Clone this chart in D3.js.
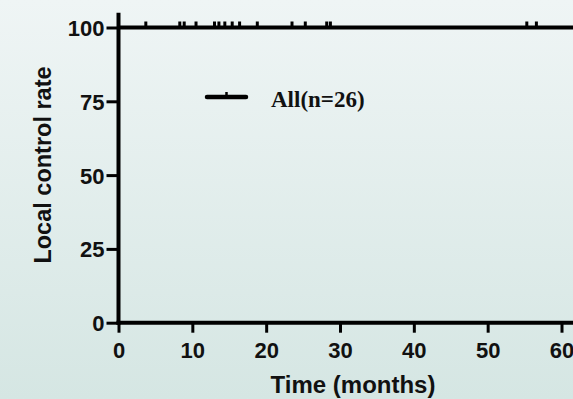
<!DOCTYPE html>
<html><head><meta charset="utf-8">
<script src="https://cdn.jsdelivr.net/npm/d3@7"></script>
<style>html,body{margin:0;padding:0;overflow:hidden;}svg{display:block;}</style>
</head><body>
<svg id="c" width="573" height="399"></svg>
<script>
// Data
const xTicks = [0, 10, 20, 30, 40, 50, 60];
const yTicks = [0, 25, 50, 75, 100];
const survivalTimes = [0, 62];          // step curve support (months)
const survivalValues = [100, 100];      // local control rate (%)
const censorTimes = [3.7, 8.3, 8.9, 10.5, 13.0, 13.6, 14.4, 15.4, 16.4, 18.8, 23.5, 25.3, 28.2, 28.7, 55.3, 56.6];
const seriesName = "All(n=26)";
const xTitle = "Time (months)";
const yTitle = "Local control rate";

const svg = d3.select("#c");
const defs = svg.append("defs");
const g = defs.append("linearGradient").attr("id","bg").attr("x1",0).attr("y1",0).attr("x2",0).attr("y2",1);
g.append("stop").attr("offset","0%").attr("stop-color","#eff5f5");
g.append("stop").attr("offset","100%").attr("stop-color","#d5e6e3");
svg.append("rect").attr("width",573).attr("height",399).attr("fill","url(#bg)");

const x = d3.scaleLinear().domain([0, 60]).range([118.5, 561.5]);
const y = d3.scaleLinear().domain([0, 100]).range([322.7, 27.5]);

const sw = 4;
const tickFont = "Liberation Sans, Arial, sans-serif";
// y axis
const ya = svg.append("g").attr("transform", `translate(${x(0)},0)`)
  .call(d3.axisLeft(y).tickValues(yTicks).tickSize(12).tickPadding(2).tickSizeOuter(0));
ya.select(".domain").remove();
ya.append("line").attr("x1",0).attr("x2",0).attr("y1",y(0)+2).attr("y2",12.7).attr("stroke","#000").attr("stroke-width",sw);
ya.selectAll(".tick line").attr("stroke-width",3);
ya.selectAll(".tick text").attr("font-family",tickFont).attr("font-weight","bold").attr("font-size","22px").attr("fill","#111").attr("dy","0.36em");

// x axis
const xa = svg.append("g").attr("transform", `translate(0,${y(0)})`)
  .call(d3.axisBottom(x).tickValues(xTicks).tickSize(10).tickPadding(10).tickSizeOuter(0));
xa.select(".domain").remove();
xa.append("line").attr("x1",x(0)-2).attr("x2",x(62)).attr("y1",0).attr("y2",0).attr("stroke","#000").attr("stroke-width",sw);
xa.selectAll(".tick line").attr("stroke-width",3);
xa.selectAll(".tick text").attr("font-family",tickFont).attr("font-weight","bold").attr("font-size","22px").attr("fill","#111");

// survival step line
const line = d3.line().x((d,i)=>x(survivalTimes[i])).y(d=>y(d)).curve(d3.curveStepAfter);
svg.append("path").datum(survivalValues).attr("d", line).attr("fill","none").attr("stroke","#000").attr("stroke-width",sw);

// censor marks
svg.selectAll(".cens").data(censorTimes).enter().append("line")
  .attr("x1", d=>x(d)).attr("x2", d=>x(d))
  .attr("y1", y(100)).attr("y2", y(100)-6)
  .attr("stroke","#000").attr("stroke-width",3);

// legend
const lg = svg.append("g");
lg.append("line").attr("x1",207).attr("x2",246).attr("y1",97).attr("y2",97).attr("stroke","#000").attr("stroke-width",4.5).attr("stroke-linecap","round");
lg.append("line").attr("x1",226.5).attr("x2",226.5).attr("y1",97).attr("y2",92).attr("stroke","#000").attr("stroke-width",2.5);
lg.append("text").attr("x",271).attr("y",107).text(seriesName)
  .attr("font-family","Liberation Serif, Times New Roman, serif").attr("font-weight","bold").attr("font-size","23px").attr("fill","#111");

// titles
svg.append("text").attr("x",353).attr("y",393).attr("text-anchor","middle").text(xTitle)
  .attr("font-family",tickFont).attr("font-weight","bold").attr("font-size","24px").attr("fill","#111");
svg.append("text").attr("transform","translate(51,165) rotate(-90)").attr("text-anchor","middle").text(yTitle)
  .attr("font-family",tickFont).attr("font-weight","bold").attr("font-size","23.5px").attr("fill","#111");
</script>
</body></html>
